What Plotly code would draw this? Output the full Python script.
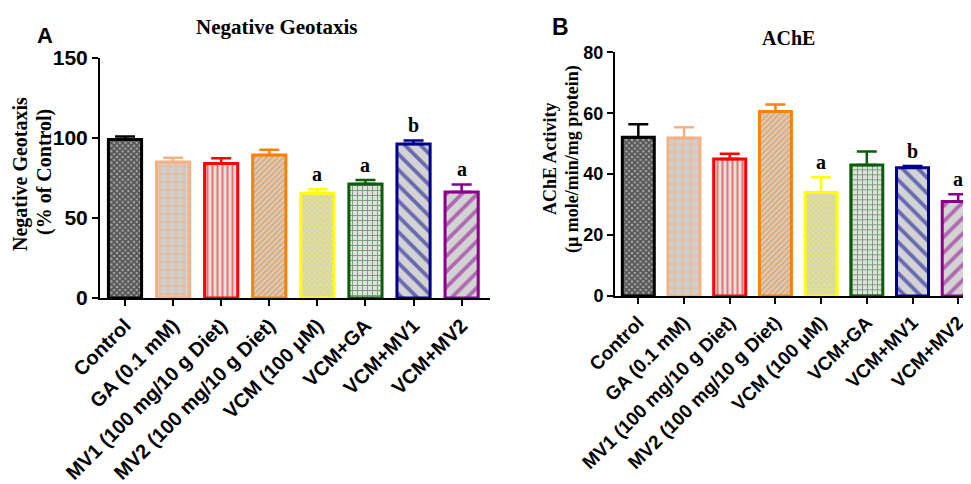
import plotly.graph_objects as go

# page body has an 8px default margin, so the figure is sized to the visible area
OFF = 8
W, H = 971 - OFF, 484 - OFF

groups = ["Control", "GA (0.1 mM)", "MV1 (100 mg/10 g Diet)", "MV2 (100 mg/10 g Diet)",
          "VCM (100 μM)", "VCM+GA", "VCM+MV1", "VCM+MV2"]

geo_mean = [99, 85, 84, 89.4, 65.4, 71.2, 96.2, 66.2]
geo_sem = [2.0, 2.6, 3.4, 3.3, 2.5, 2.5, 2.3, 4.8]
geo_letters = ["", "", "", "", "a", "a", "b", "a"]

ache_mean = [52.1, 51.9, 45.0, 60.6, 34.0, 43.0, 42.1, 31.0]
ache_sem = [4.3, 3.5, 1.7, 2.3, 5.0, 4.4, 0.6, 2.4]
ache_letters = ["", "", "", "", "a", "", "b", "a"]

line_colors = ["#000000", "#F4B183", "#FF0000", "#FF8000", "#FFFF00", "#0B5D0B", "#00008B", "#8B008B"]
fg_colors = ["#000000", "#F4B183", "#FF0000", "#FF8000", "#FFFF00", "#0B5D0B", "#00008B", "#8B008B"]
bg_colors = ["#A8A8A8", "#D0D0D0", "#E0E0E0", "#D0D0D0", "#D0D0D0", "#E0E0E0", "#D3D3D3", "#D3D3D3"]
shapes = ["x", "+", "|", "/", "x", "+", "\\", "/"]
sizes = [4, 8, 5, 4, 4, 5, 11, 11]
solid = [0.7, 0.5, 0.4, 0.5, 0.5, 0.35, 0.35, 0.35]


def px(x):
    return (x - OFF) / W


def py(y):
    return 1 - (y - OFF) / H


fig = go.Figure()

panels = [
    dict(mean=geo_mean, sem=geo_sem, letters=geo_letters, xa="x", ya="y", w=0.69),
    dict(mean=ache_mean, sem=ache_sem, letters=ache_letters, xa="x2", ya="y2", w=0.70),
]

annotations = []
for p in panels:
    for i in range(len(groups)):
        fig.add_trace(go.Bar(
            x=[i], y=[p["mean"][i]], width=p["w"], xaxis=p["xa"], yaxis=p["ya"],
            marker=dict(color=bg_colors[i], line=dict(color=line_colors[i], width=3),
                        pattern=dict(shape=shapes[i], fgcolor=fg_colors[i], size=sizes[i],
                                     solidity=solid[i], fillmode="overlay")),
            error_y=dict(type="data", array=[p["sem"][i]], arrayminus=[0], symmetric=False,
                         color=line_colors[i], thickness=2.5, width=10),
            showlegend=False, hoverinfo="skip", cliponaxis=False,
        ))
        if p["letters"][i]:
            annotations.append(dict(
                x=i, y=p["mean"][i] + p["sem"][i], xref=p["xa"], yref=p["ya"],
                text="<b>" + p["letters"][i] + "</b>", showarrow=False,
                yanchor="bottom", yshift=2,
                font=dict(family="Liberation Serif", size=20, color="black"),
            ))

axis_common = dict(showline=True, linewidth=2, linecolor="black", ticks="outside",
                   tickwidth=2, ticklen=6, tickcolor="black", showgrid=False, zeroline=False,
                   automargin=False)

fig.update_layout(
    width=W, height=H, margin=dict(l=0, r=0, t=0, b=0, autoexpand=False),
    paper_bgcolor="white", plot_bgcolor="white", barmode="overlay",
    xaxis=dict(domain=[px(100), px(490)], range=[-0.52, 7.59], tickvals=list(range(8)),
               ticktext=groups, tickangle=-45, anchor="y",
               tickfont=dict(family="Liberation Sans", size=20, color="black", weight="bold"),
               **axis_common),
    yaxis=dict(domain=[py(298), py(58)], range=[0, 150], tickvals=[0, 50, 100, 150],
               anchor="x",
               tickfont=dict(family="Liberation Sans", size=21, color="black", weight="bold"),
               **axis_common),
    xaxis2=dict(domain=[px(615), 1.0], range=[-0.51, 7.28], tickvals=list(range(8)),
                ticktext=groups, tickangle=-45, anchor="y2",
                tickfont=dict(family="Liberation Sans", size=19, color="black", weight="bold"),
                **axis_common),
    yaxis2=dict(domain=[py(296), py(52.3)], range=[0, 80], tickvals=[0, 20, 40, 60, 80],
                anchor="x2",
                tickfont=dict(family="Liberation Sans", size=18, color="black", weight="bold"),
                **axis_common),
)

serif = "Liberation Serif"
annotations += [
    dict(x=px(277), y=py(27), text="<b>Negative Geotaxis</b>", font=dict(family=serif, size=21)),
    dict(x=px(45), y=py(35), text="<b>A</b>", font=dict(family="Liberation Sans", size=22)),
    dict(x=px(560), y=py(27), text="<b>B</b>", font=dict(family="Liberation Sans", size=23)),
    dict(x=px(788), y=py(38), text="<b>AChE</b>", font=dict(family=serif, size=20)),
    dict(x=px(20), y=py(174), text="<b>Negative Geotaxis</b>", textangle=-90,
         font=dict(family=serif, size=20)),
    dict(x=px(44), y=py(172), text="<b>(% of Control)</b>", textangle=-90,
         font=dict(family=serif, size=20)),
    dict(x=px(550), y=py(159), text="<b>AChE Activity</b>", textangle=-90,
         font=dict(family=serif, size=18)),
    dict(x=px(572), y=py(159), text="<b>(μ mole/min/mg protein)</b>", textangle=-90,
         font=dict(family=serif, size=18)),
]
for a in annotations[-8:]:
    a.update(xref="paper", yref="paper", showarrow=False, xanchor="center", yanchor="middle")
    a["font"]["color"] = "black"

fig.update_layout(annotations=annotations)
fig.write_html("out.html")
